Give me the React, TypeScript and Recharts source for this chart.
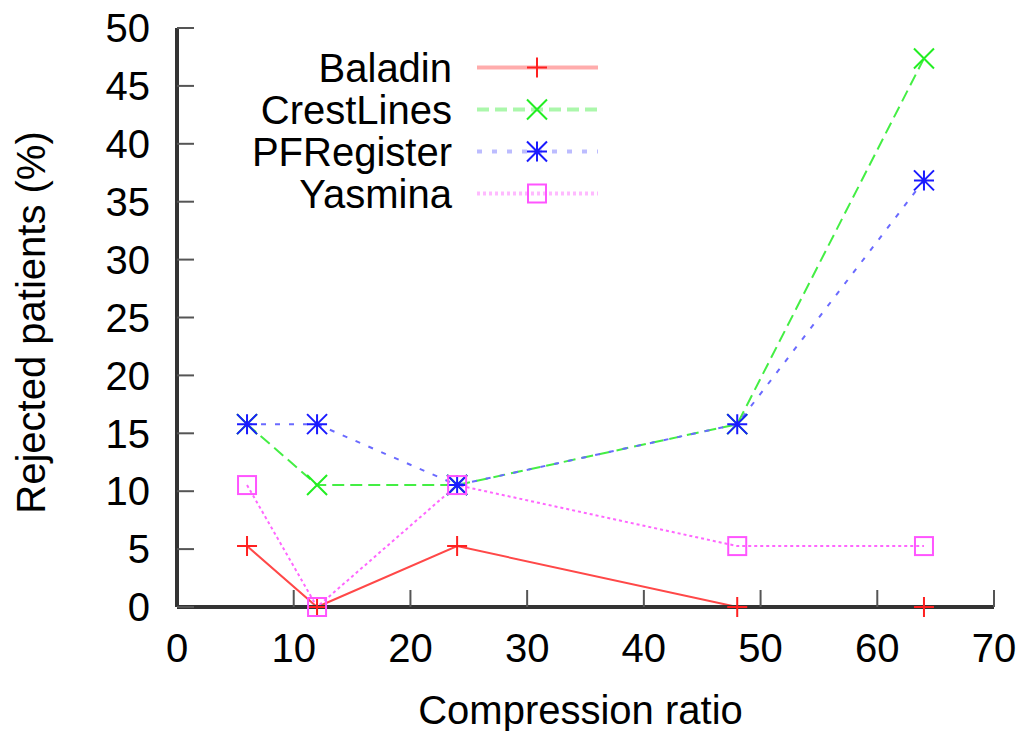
import React from 'react'
import { LineChart, Line, XAxis, YAxis, Legend } from 'recharts'

// compression ratio of each test, and % of rejected patients per method
const ratios = [6, 12, 24, 48, 64]
const baladin = [5.26, 0, 5.26, 0, 0]
const crestLines = [15.79, 10.53, 10.53, 15.79, 47.37]
const pfRegister = [15.79, 15.79, 10.53, 15.79, 36.84]
const yasmina = [10.53, 0, 10.53, 5.26, 5.26]

const xTicks = [0, 10, 20, 30, 40, 50, 60, 70]
const yTicks = [0, 5, 10, 15, 20, 25, 30, 35, 40, 45, 50]

const data = ratios.map((ratio, i) => ({
  ratio,
  Baladin: baladin[i],
  CrestLines: crestLines[i],
  PFRegister: pfRegister[i],
  Yasmina: yasmina[i],
}))

type MarkerKind = 'plus' | 'cross' | 'star' | 'square'

type SeriesStyle = {
  key: string
  color: string
  mark: string
  dash?: string
  legendDash?: string
  marker: MarkerKind
}

const series: SeriesStyle[] = [
  { key: 'Baladin', color: '#ff4848', mark: '#ff2020', marker: 'plus' },
  { key: 'CrestLines', color: '#44ee44', mark: '#22ee22', dash: '12 6', legendDash: '12 6', marker: 'cross' },
  { key: 'PFRegister', color: '#6a6aff', mark: '#1a1aff', dash: '5 9', legendDash: '5 10', marker: 'star' },
  { key: 'Yasmina', color: '#ff66ff', mark: '#ff55ff', dash: '3 3', legendDash: '3 3', marker: 'square' },
]

const FONT = "'Liberation Sans', Arial, Helvetica, sans-serif"
const BORDER = { stroke: '#333', strokeWidth: 4 }
const TICK_LINE = { stroke: '#555', strokeWidth: 2 }

function Marker({ kind, x, y, color }: { kind: MarkerKind; x: number; y: number; color: string }) {
  const r = 10
  const plus = `M${x - r},${y}H${x + r}M${x},${y - r}V${y + r}`
  const cross = `M${x - r},${y - r}L${x + r},${y + r}M${x - r},${y + r}L${x + r},${y - r}`
  if (kind === 'square') {
    return <rect x={x - 9} y={y - 9} width={18} height={18} fill="none" stroke={color} strokeWidth={2} />
  }
  const d = kind === 'plus' ? plus : kind === 'cross' ? cross : plus + cross
  return <path d={d} fill="none" stroke={color} strokeWidth={2} />
}

function LegendRows({ payload }: any) {
  return (
    <svg width={620} height={230} style={{ display: 'block' }}>
      {(payload ?? []).map((entry: any, i: number) => {
        const s = series.find((it) => it.key === entry.value) ?? series[0]
        const y = 67.5 + i * 42
        return (
          <g key={s.key}>
            <text x={452} y={y + 14} textAnchor="end" fontSize={40} fontFamily={FONT} fill="#000">
              {entry.value}
            </text>
            <line
              x1={477}
              x2={598}
              y1={y}
              y2={y}
              stroke={s.color}
              strokeOpacity={0.45}
              strokeWidth={4}
              strokeDasharray={s.legendDash}
            />
            <Marker kind={s.marker} x={537} y={y} color={s.mark} />
          </g>
        )
      })}
    </svg>
  )
}

export default function App() {
  const tickStyle = { fontSize: 40, fill: '#000', fontFamily: FONT }
  return (
    <div style={{ position: 'absolute', left: 0, top: 0, background: '#fff' }}>
      <LineChart width={1026} height={731} data={data} margin={{ top: 28, right: 32, bottom: 0, left: 0 }}>
        <XAxis
          dataKey="ratio"
          type="number"
          domain={[0, 70]}
          ticks={xTicks}
          interval={0}
          height={124}
          tickSize={-17}
          tickMargin={44}
          tick={tickStyle}
          axisLine={BORDER}
          tickLine={TICK_LINE}
          label={{
            content: (props: any) => {
              const vb = props.viewBox
              return (
                <text x={vb.x + vb.width / 2 - 5} y={724} textAnchor="middle" fontSize={40} fontFamily={FONT} fill="#000">
                  Compression ratio
                </text>
              )
            },
          }}
        />
        <XAxis
          xAxisId="top"
          orientation="top"
          type="number"
          domain={[0, 70]}
          ticks={xTicks}
          interval={0}
          height={0}
          tickSize={-17}
          tick={false}
          axisLine={BORDER}
          tickLine={TICK_LINE}
        />
        <YAxis
          type="number"
          domain={[0, 50]}
          ticks={yTicks}
          interval={0}
          width={177}
          tickSize={-17}
          tickMargin={44}
          tick={tickStyle}
          axisLine={BORDER}
          tickLine={TICK_LINE}
          label={{
            content: (props: any) => {
              const vb = props.viewBox
              const cy = vb.y + vb.height / 2 + 5
              return (
                <text
                  x={45}
                  y={cy}
                  transform={`rotate(-90, 45, ${cy})`}
                  textAnchor="middle"
                  fontSize={40}
                  fontFamily={FONT}
                  fill="#000"
                >
                  Rejected patients (%)
                </text>
              )
            },
          }}
        />
        <YAxis
          yAxisId="right"
          orientation="right"
          type="number"
          domain={[0, 50]}
          ticks={yTicks}
          interval={0}
          width={0}
          tickSize={-17}
          tick={false}
          axisLine={BORDER}
          tickLine={TICK_LINE}
        />
        <Legend
          layout="vertical"
          align="center"
          verticalAlign="middle"
          wrapperStyle={{ left: 0, top: 0, width: 620, height: 230 }}
          content={LegendRows}
        />
        {series.map((s) => (
          <Line
            key={s.key}
            dataKey={s.key}
            name={s.key}
            type="linear"
            stroke={s.color}
            strokeWidth={2}
            strokeDasharray={s.dash}
            isAnimationActive={false}
            dot={(p: any) => <Marker key={`${s.key}-${p.index}`} kind={s.marker} x={p.cx} y={p.cy} color={s.mark} />}
            activeDot={false}
          />
        ))}
      </LineChart>
    </div>
  )
}
